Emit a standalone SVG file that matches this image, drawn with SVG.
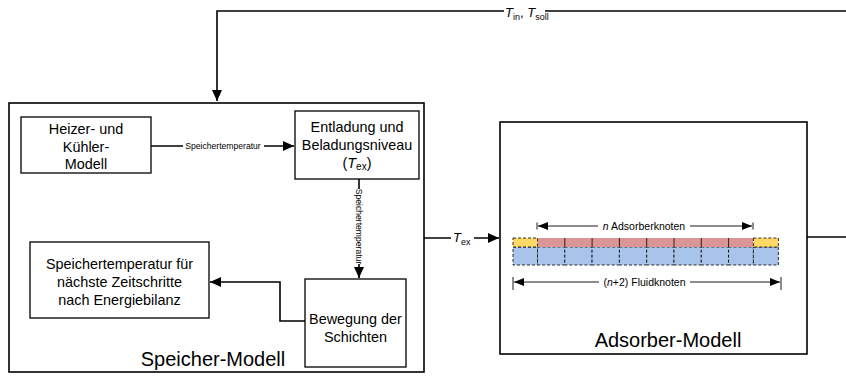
<svg xmlns="http://www.w3.org/2000/svg" width="846" height="376" viewBox="0 0 846 376">
<style>
  .box{fill:#fff;stroke:#000;stroke-width:1.3}
  .frame{fill:#fff;stroke:#000;stroke-width:1.6}
  .t{font-family:"Liberation Sans",Arial,sans-serif;font-size:14.4px;fill:#000;text-anchor:middle}
  .big{font-family:"Liberation Sans",Arial,sans-serif;font-size:20px;fill:#000;text-anchor:middle}
  .sm{font-family:"Liberation Sans",Arial,sans-serif;font-size:8.6px;fill:#000;text-anchor:middle}
  .dim{font-family:"Liberation Sans",Arial,sans-serif;font-size:10.5px;fill:#000;text-anchor:middle}
  .lbl{font-family:"Liberation Sans",Arial,sans-serif;font-size:13px;fill:#000}
  .c{fill:none;stroke:#000;stroke-width:1.6}
  .d{fill:none;stroke:#000;stroke-width:0.9}
  .y{fill:#FFD966;stroke:#000;stroke-width:0.8;stroke-dasharray:3 2}
  .r{fill:#DA9694;stroke:none}
  .b{fill:#A9C4EB;stroke:#000;stroke-width:0.8;stroke-dasharray:3 2}
</style>
<defs>
  <marker id="ah" markerWidth="12" markerHeight="10" refX="11" refY="5" orient="auto" markerUnits="userSpaceOnUse">
    <path d="M0,0 L11,5 L0,10 Z" fill="#000"/>
  </marker>
  <marker id="as" markerWidth="10" markerHeight="8" refX="10" refY="4" orient="auto" markerUnits="userSpaceOnUse">
    <path d="M0,0 L10,4 L0,8 Z" fill="#000"/>
  </marker>
</defs>

<g id="speicher-modell">
  <rect class="frame" x="9" y="103" width="415" height="269"/>
  <text class="big" x="213" y="366">Speicher-Modell</text>
</g>

<g id="adsorber-modell">
  <rect class="frame" x="500" y="122" width="307" height="232"/>
  <text class="big" x="668" y="347">Adsorber-Modell</text>
  <g id="knoten">
    <rect class="b" x="513" y="247" width="24.5" height="18"/>
    <rect class="b" x="537.5" y="247" width="27.3" height="18"/>
    <rect class="b" x="564.8" y="247" width="27.3" height="18"/>
    <rect class="b" x="592.1" y="247" width="27.3" height="18"/>
    <rect class="b" x="619.4" y="247" width="27.3" height="18"/>
    <rect class="b" x="646.7" y="247" width="27.3" height="18"/>
    <rect class="b" x="674" y="247" width="27.3" height="18"/>
    <rect class="b" x="701.3" y="247" width="27.3" height="18"/>
    <rect class="b" x="728.6" y="247" width="24.8" height="18"/>
    <rect class="b" x="753.4" y="247" width="25" height="18"/>
    <rect class="r" x="537.5" y="238" width="215.9" height="9"/>
    <path d="M564.8,238V247M592.1,238V247M619.4,238V247M646.7,238V247M674,238V247M701.3,238V247M728.6,238V247" stroke="#000" stroke-width="0.8"/>
    <rect class="y" x="513" y="238" width="24.5" height="9"/>
    <rect class="y" x="753.4" y="238" width="25" height="9"/>
  </g>
  <g id="dim-adsorber">
    <path class="d" d="M537,222.5V229.5M753,222.5V229.5"/>
    <path class="d" d="M598,226H538" marker-end="url(#as)"/>
    <path class="d" d="M690,226H752" marker-end="url(#as)"/>
    <text class="dim" x="644" y="229.5"><tspan font-style="italic">n</tspan> Adsorberknoten</text>
  </g>
  <g id="dim-fluid">
    <path class="d" d="M513,277V290M781,277V290"/>
    <path class="d" d="M599,282H514" marker-end="url(#as)"/>
    <path class="d" d="M690,282H780" marker-end="url(#as)"/>
    <text class="dim" x="644.5" y="285.5">(<tspan font-style="italic">n</tspan>+2) Fluidknoten</text>
  </g>
</g>

<g id="heizer">
  <rect class="box" x="21" y="117" width="130" height="56"/>
  <text class="t" x="86" y="134">Heizer- und</text>
  <text class="t" x="86" y="151.5">Kühler-</text>
  <text class="t" x="86" y="169">Modell</text>
</g>

<g id="entladung">
  <rect class="box" x="295" y="111" width="124" height="68"/>
  <text class="t" x="357" y="132">Entladung und</text>
  <text class="t" x="357" y="150">Beladungsniveau</text>
  <text class="t" x="357" y="168">(<tspan font-style="italic">T</tspan><tspan font-size="10" dy="2">ex</tspan><tspan dy="-2">)</tspan></text>
</g>

<g id="speichertemperatur">
  <rect class="box" x="30" y="242" width="179" height="76"/>
  <text class="t" x="119.5" y="269">Speichertemperatur für</text>
  <text class="t" x="119.5" y="287">nächste Zeitschritte</text>
  <text class="t" x="119.5" y="305">nach Energiebilanz</text>
</g>

<g id="bewegung">
  <rect class="box" x="305" y="279" width="101" height="88"/>
  <text class="t" x="355.5" y="324">Bewegung der</text>
  <text class="t" x="355.5" y="342">Schichten</text>
</g>

<g id="connectors">
  <path class="c" d="M505,11H217V101" marker-end="url(#ah)"/>
  <path class="c" d="M846,11H545"/>
  <rect x="504" y="2" width="39" height="19" fill="#fff"/>
  <text class="lbl" x="505" y="17"><tspan font-style="italic">T</tspan><tspan font-size="9" dy="2.5">in</tspan><tspan dy="-2.5">, </tspan><tspan font-style="italic">T</tspan><tspan font-size="9" dy="2.5">soll</tspan></text>

  <path class="c" d="M151,146H294" marker-end="url(#ah)"/>
  <rect x="183" y="141" width="81" height="10" fill="#fff"/>
  <text class="sm" x="223" y="149">Speichertemperatur</text>

  <path class="c" d="M359,179V278" marker-end="url(#ah)"/>
  <rect x="354" y="189" width="10" height="75" fill="#fff"/>
  <text class="sm" transform="translate(356,226.5) rotate(90)">Speichertemperatur</text>

  <path class="c" d="M305,321H280V282H210" marker-end="url(#ah)"/>

  <path class="c" d="M424,238H499" marker-end="url(#ah)"/>
  <rect x="451" y="230" width="23" height="15" fill="#fff"/>
  <text class="lbl" x="453" y="242"><tspan font-style="italic">T</tspan><tspan font-size="9" dy="2.5">ex</tspan></text>

  <path class="c" d="M807,237H846"/>
</g>
</svg>
